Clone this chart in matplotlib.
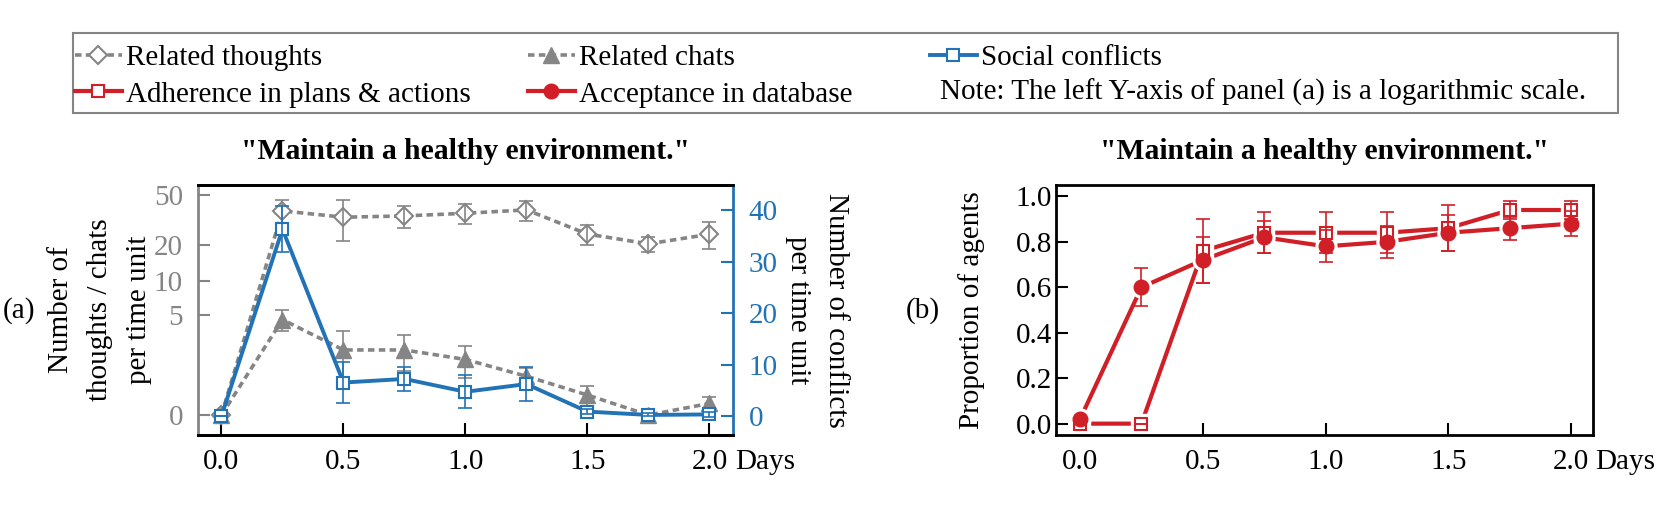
#!/usr/bin/env python3

# ========================================================================
#
# Imports
#
# ========================================================================
import numpy as np
import matplotlib as mpl
mpl.use('Agg')
import matplotlib.pyplot as plt
from matplotlib.lines import Line2D
from matplotlib.patches import Rectangle


# ========================================================================
#
# Data
#
# ========================================================================
days = [0.0, 0.25, 0.5, 0.75, 1.0, 1.25, 1.5, 1.75, 2.0]

# panel (a), left axis
thoughts = [0, 37.4, 33.3, 34.1, 35.8, 38.1, 24.4, 20.3, 24.3]
thoughts_err = [0, 8.5, 12.0, 7.0, 6.5, 7.0, 4.5, 3.0, 6.0]
chats = [0, 4.5, 2.2, 2.2, 1.7, 1.0, 0.43, 0, 0.23]
chats_err = [0, 1.0, 1.3, 1.0, 0.75, 0.3, 0.25, 0, 0.15]

# panel (a), right axis
conflicts = [0, 36.3, 6.5, 7.2, 4.7, 6.2, 0.85, 0.2, 0.3]
conflicts_err = [0, 4.5, 4.0, 2.4, 3.2, 3.3, 0.5, 0.3, 0.5]

# panel (b)
adherence = [0, 0, 0.76, 0.84, 0.84, 0.84, 0.86, 0.94, 0.94]
adherence_err = [0, 0, 0.14, 0.09, 0.09, 0.09, 0.10, 0.04, 0.04]
acceptance = [0.02, 0.60, 0.72, 0.82, 0.78, 0.80, 0.84, 0.86, 0.88]
acceptance_err = [0, 0.083, 0.10, 0.07, 0.07, 0.07, 0.08, 0.05, 0.055]

left_ticks = [0, 5, 10, 20, 50]
right_ticks = [0, 10, 20, 30, 40]
prop_ticks = [0.0, 0.2, 0.4, 0.6, 0.8, 1.0]
day_ticks = [0.0, 0.5, 1.0, 1.5, 2.0]

title = '"Maintain a healthy environment."'
note = 'Note: The left Y-axis of panel (a) is a logarithmic scale.'

# ========================================================================
#
# Style
#
# ========================================================================
plt.rc('font', family=['Liberation Serif', 'DejaVu Serif'], size=21)
gray = '#858585'
blue = '#2272b6'
red = '#d01f27'
W, H = 1661, 526
tlen = 8.5


def log1p_fwd(y):
    return np.log10(np.asarray(y, dtype=float) + 1.0)


def log1p_inv(y):
    return 10.0 ** np.asarray(y, dtype=float) - 1.0


# ========================================================================
#
# Main
#
# ========================================================================
fig = plt.figure(figsize=(W / 100, H / 100), dpi=100)
ax = fig.add_axes([198.3 / W, 1 - 435 / H, 535 / W, 250 / H])
axr = ax.twinx()
bx = fig.add_axes([1056 / W, 1 - 435 / H, 537.3 / W, 250 / H])

# ------------------------------------------------------------------------
# panel (a)
ax.set_yscale('function', functions=(log1p_fwd, log1p_inv))
lt, = ax.plot(days, thoughts, color=gray, lw=2.6, dashes=(1.8, 1.2),
              marker='D', ms=9, mfc='white', mec=gray, mew=1.5, zorder=3,
              label='Related thoughts')
ax.errorbar(days, thoughts, yerr=thoughts_err, fmt='none', ecolor=gray,
            elinewidth=1.2, capsize=5, capthick=1.2, zorder=4)
lc, = ax.plot(days, chats, color=gray, lw=2.6, dashes=(1.8, 1.2),
              marker='^', ms=11, mfc=gray, mec=gray, zorder=3,
              label='Related chats')
ax.errorbar(days, chats, yerr=chats_err, fmt='none', ecolor=gray,
            elinewidth=1.2, capsize=5, capthick=1.2, zorder=4)

lsc, = axr.plot(days, conflicts, color=blue, lw=2.8, marker='s', ms=8.5,
                mfc='white', mec=blue, mew=1.5, zorder=3,
                label='Social conflicts')
axr.errorbar(days, conflicts, yerr=conflicts_err, fmt='none', ecolor=blue,
             elinewidth=1.2, capsize=5, capthick=1.2, zorder=4)

ax.set_xlim(-0.095, 2.098)
ax.set_ylim(-0.3, 60)
axr.set_ylim(-3.7, 44.9)
ax.set_yticks(left_ticks)
ax.set_yticklabels([str(t) for t in left_ticks])
ax.yaxis.set_minor_locator(mpl.ticker.NullLocator())
axr.set_yticks(right_ticks)
ax.set_xticks(day_ticks)
ax.set_xticklabels(['%.1f' % d for d in day_ticks])

ax.tick_params(axis='y', direction='in', length=tlen, width=1.5,
               color=gray, labelcolor=gray, pad=11)
ax.tick_params(axis='x', direction='in', length=tlen, width=1.5, pad=10)
axr.tick_params(axis='y', direction='in', length=tlen, width=1.5,
                colors=blue, pad=11)
for s in ax.spines.values():
    s.set_linewidth(2)
for s in axr.spines.values():
    s.set_linewidth(2)
ax.spines['left'].set_color(gray)
axr.spines['left'].set_visible(False)
axr.spines['right'].set_color(blue)
ax.spines['right'].set_visible(False)

ax.set_title(title, fontweight='bold', fontsize=21.3, pad=19)
ax.set_ylabel('Number of\nthoughts / chats\nper time unit', va='center',
              linespacing=1.64)
ax.yaxis.set_label_coords((100 - 198.3) / 535, 0.5)
axr.set_ylabel('Number of conflicts\nper time unit', rotation=270,
               va='center', linespacing=1.64)
axr.yaxis.set_label_coords((817 - 198.3) / 535, 0.5)
ax.set_xlabel('Days', ha='left', va='top')
ax.xaxis.set_label_coords(1.003, -0.056)

# ------------------------------------------------------------------------
# panel (b): lines, white gap around symbols, then symbols
bx.plot(days, adherence, color=red, lw=3, zorder=2)
bx.plot(days, acceptance, color=red, lw=3, zorder=2)
bx.plot(days, adherence, ls='none', marker='s', ms=14, mfc='white',
        mec='white', zorder=2.5)
bx.plot(days, acceptance, ls='none', marker='o', ms=15, mfc='white',
        mec='white', zorder=2.5)
bx.plot(days, adherence, ls='none', marker='s', ms=8.5, mfc='white',
        mec=red, mew=1.5, zorder=3)
bx.plot(days, acceptance, ls='none', marker='o', ms=10.5, mfc=red,
        mec=red, zorder=3)
bx.errorbar(days, adherence, yerr=adherence_err, fmt='none', ecolor=red,
            elinewidth=1.2, capsize=5, capthick=1.2, zorder=4)
bx.errorbar(days, acceptance, yerr=acceptance_err, fmt='none', ecolor=red,
            elinewidth=1.2, capsize=5, capthick=1.2, zorder=4)

bx.set_xlim(-0.098, 2.09)
bx.set_ylim(-0.05, 1.05)
bx.set_xticks(day_ticks)
bx.set_xticklabels(['%.1f' % d for d in day_ticks])
bx.set_yticks(prop_ticks)
bx.set_yticklabels(['%.1f' % p for p in prop_ticks])
bx.tick_params(axis='y', direction='in', length=tlen, width=1.5, pad=3)
bx.tick_params(axis='x', direction='in', length=tlen, width=1.5, pad=10)
for s in bx.spines.values():
    s.set_linewidth(2)

bx.set_title(title, fontweight='bold', fontsize=21.3, pad=19)
bx.set_ylabel('Proportion of agents', va='center')
bx.yaxis.set_label_coords((971.7 - 1056) / 537.3, 0.5)
bx.set_xlabel('Days', ha='left', va='top')
bx.xaxis.set_label_coords(1.003, -0.056)

fig.text(19 / W, 1 - 311 / H, '(a)', ha='center', va='center')
fig.text(923 / W, 1 - 311 / H, '(b)', ha='center', va='center')

# ------------------------------------------------------------------------
# legend
h_adh = Line2D([], [], color=red, lw=3, marker='s', ms=8.5,
               mfc='white', mec=red, mew=1.5)
h_acc = Line2D([], [], color=red, lw=3, marker='o', ms=10.5, mfc=red,
               mec=red)
lkw = dict(loc='upper left', frameon=False, borderpad=0, borderaxespad=0,
           handlelength=1.6, handletextpad=0.15, labelspacing=0.34,
           numpoints=1)
fig.legend([lt, h_adh], ['Related thoughts', 'Adherence in plans & actions'],
           bbox_to_anchor=(75 / W, 1 - 44.8 / H), **lkw)
fig.legend([lc, h_acc], ['Related chats', 'Acceptance in database'],
           bbox_to_anchor=(528 / W, 1 - 44.8 / H), **lkw)
fig.legend([lsc], ['Social conflicts'],
           bbox_to_anchor=(930 / W, 1 - 44.8 / H), **lkw)
fig.text(940 / W, 1 - 92.7 / H, note, ha='left', va='center')
fig.add_artist(Rectangle((73.3 / W, 1 - 112.7 / H), (1618 - 73.3) / W,
                         80 / H, transform=fig.transFigure, fill=False,
                         ec=gray, lw=1.5))

fig.savefig('out.png', dpi=100)
